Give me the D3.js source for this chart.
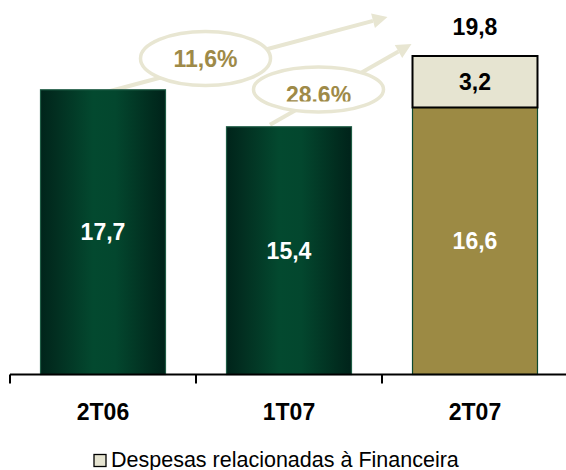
<!DOCTYPE html>
<html><head><meta charset="utf-8">
<script src="https://cdn.jsdelivr.net/npm/d3@7"></script>
<style>html,body{margin:0;padding:0;background:#fff;}svg{display:block;font-family:"Liberation Sans",Arial,sans-serif;}</style>
</head><body>
<svg id="chart" width="566" height="470"></svg>
<script>
const categories = ["2T06", "1T07", "2T07"];
const mainValues = [17.7, 15.4, 16.6];
const mainLabels = ["17,7", "15,4", "16,6"];
const financeiraValues = [0, 0, 3.2];
const financeiraLabels = ["", "", "3,2"];
const totalLabels = ["", "", "19,8"];
const growthLabels = ["11,6%", "28.6%"];
const legendLabel = "Despesas relacionadas à Financeira";

const svg = d3.select("#chart");
const x = d3.scaleBand().domain(categories).range([10, 568]).paddingInner(0.328).paddingOuter(0.164);
const y = d3.scaleLinear().domain([0, 19.8]).range([374.5, 56]);

const defs = svg.append("defs");
const g = defs.append("linearGradient").attr("id", "gr").attr("x1", "0").attr("x2", "1").attr("y1", "0").attr("y2", "0");
[["0%", "#00241a"], ["12%", "#022e20"], ["42%", "#03492f"], ["60%", "#03472e"], ["88%", "#012d1f"], ["100%", "#00231a"]]
  .forEach(([o, c]) => g.append("stop").attr("offset", o).attr("stop-color", c));
defs.append("clipPath").attr("id", "clip2").append("rect").attr("x", 0).attr("y", 0).attr("width", 566).attr("height", 101.5);

const data = categories.map((c, i) => ({c, v: mainValues[i], f: financeiraValues[i], ml: mainLabels[i], fl: financeiraLabels[i], tl: totalLabels[i]}));

const beige = "#e8e6d2";
const arrows = [
  {from: "2T06", fromVal: 17.7, dx0: -3, dy0: 4, tipDx: -25, tipY: 17, cx: 205.5, cy: 58.5, rx: 65, ry: 27, label: growthLabels[0], clip: false},
  {from: "1T07", fromVal: 15.4, dx0: -19, dy0: -2, tipDx: -1, tipY: 44, cx: 318.5, cy: 89.5, rx: 65, ry: 22.5, label: growthLabels[1], clip: true}
];
arrows.forEach(a => {
  const x0 = x(a.from) + x.bandwidth() / 2 + a.dx0;
  const y0 = y(a.fromVal) + a.dy0;
  const x1 = x("2T07") + a.tipDx, y1 = a.tipY;
  const ang = Math.atan2(y1 - y0, x1 - x0);
  const L = 15, W = 7.5;
  const bx = x1 - L * Math.cos(ang), by = y1 - L * Math.sin(ang);
  svg.append("line").attr("x1", x0).attr("y1", y0).attr("x2", bx).attr("y2", by)
    .attr("stroke", beige).attr("stroke-width", 4);
  const px = -Math.sin(ang), py = Math.cos(ang);
  svg.append("path").attr("d", `M${x1},${y1}L${bx + px * W},${by + py * W}L${bx - px * W},${by - py * W}Z`).attr("fill", beige);
});
arrows.forEach(a => {
  svg.append("ellipse").attr("cx", a.cx).attr("cy", a.cy).attr("rx", a.rx).attr("ry", a.ry)
    .attr("fill", "#fff").attr("stroke", beige).attr("stroke-width", 3.5);
  const t = svg.append("text").attr("x", a.cx).attr("y", a.cy + 8.5).attr("text-anchor", "middle")
    .attr("font-size", 23).attr("font-weight", "bold").attr("fill", "#9e8a48").text(a.label);
  if (a.clip) t.attr("clip-path", "url(#clip2)").attr("y", a.cy + 13.5);
});

svg.selectAll(".mb").data(data).enter().append("rect")
  .attr("x", d => x(d.c)).attr("y", d => y(d.v)).attr("width", x.bandwidth()).attr("height", d => y(0) - y(d.v))
  .attr("fill", d => d.f > 0 ? "#9c8a44" : "url(#gr)")
  .attr("stroke", d => d.f > 0 ? "#0c4a31" : "#1f5c45").attr("stroke-width", 1.2);
svg.selectAll(".fb").data(data.filter(d => d.f > 0)).enter().append("rect")
  .attr("x", d => x(d.c)).attr("y", d => y(d.v + d.f)).attr("width", x.bandwidth()).attr("height", d => y(d.v) - y(d.v + d.f))
  .attr("fill", "#e6e4d1").attr("stroke", "#000").attr("stroke-width", 2);

svg.selectAll(".ml").data(data).enter().append("text")
  .attr("x", d => x(d.c) + x.bandwidth() / 2).attr("y", d => (y(0) + y(d.v)) / 2 + 8)
  .attr("text-anchor", "middle").attr("font-size", 23).attr("font-weight", "bold").attr("fill", "#fff").text(d => d.ml);
svg.selectAll(".fl").data(data.filter(d => d.f > 0)).enter().append("text")
  .attr("x", d => x(d.c) + x.bandwidth() / 2).attr("y", d => (y(d.v) + y(d.v + d.f)) / 2 + 8.5)
  .attr("text-anchor", "middle").attr("font-size", 23).attr("font-weight", "bold").attr("fill", "#000").text(d => d.fl);
svg.selectAll(".tl").data(data.filter(d => d.tl)).enter().append("text")
  .attr("x", d => x(d.c) + x.bandwidth() / 2).attr("y", d => y(d.v + d.f) - 21)
  .attr("text-anchor", "middle").attr("font-size", 23).attr("font-weight", "bold").attr("fill", "#000").text(d => d.tl);

const axisY = y(0);
svg.append("line").attr("x1", 10).attr("x2", 566).attr("y1", axisY).attr("y2", axisY).attr("stroke", "#000").attr("stroke-width", 2);
svg.selectAll(".tk").data(categories).enter().append("line")
  .attr("x1", d => x(d) - x.step() * x.paddingInner() / 2).attr("x2", d => x(d) - x.step() * x.paddingInner() / 2)
  .attr("y1", axisY).attr("y2", axisY + 9).attr("stroke", "#000").attr("stroke-width", 2);
svg.selectAll(".cl").data(categories).enter().append("text")
  .attr("x", d => x(d) + x.bandwidth() / 2).attr("y", 420).attr("text-anchor", "middle")
  .attr("font-size", 23).attr("font-weight", "bold").attr("fill", "#000").text(d => d);

svg.append("rect").attr("x", 94).attr("y", 454.5).attr("width", 12).attr("height", 12)
  .attr("fill", "#e6e4d1").attr("stroke", "#000").attr("stroke-width", 1.3);
svg.append("text").attr("x", 111).attr("y", 466.5).attr("font-size", 21.5).attr("fill", "#000").text(legendLabel);
</script>
</body></html>
